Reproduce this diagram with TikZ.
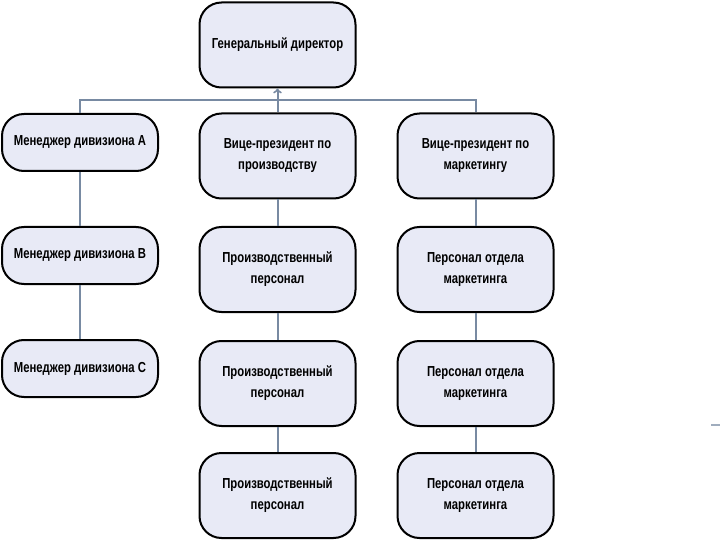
\documentclass[tikz,border=0pt]{standalone}
\usepackage{fontspec}
\newfontfamily\boxfont{Liberation Sans}[FakeStretch=0.78]
\usepackage{tikz}
\definecolor{boxfill}{RGB}{232,234,246}
\definecolor{linkcol}{RGB}{120,138,162}

\begin{document}
\begin{tikzpicture}[x=1pt,y=-1pt,
        every node/.style={rectangle,rounded corners=22pt,draw=black,line width=2pt,
            fill=boxfill,minimum width=156pt,align=center,inner sep=2pt,
            font=\boxfont\bfseries\fontsize{14.5}{21}\selectfont},
        tall/.style={minimum height=85pt},
        short/.style={minimum height=57pt},
        link/.style={draw=linkcol,line width=2pt},
        >=to
    ]
        \useasboundingbox (0,0) rectangle (720,540);

        \node[tall] (gd) at (277.5,45) {Генеральный директор};

        \node[short] (ma) at (80,142.5) {Менеджер дивизиона А};
        \node[short] (mb) at (80,255.5) {Менеджер дивизиона В};
        \node[short] (mc) at (80,368.5) {Менеджер дивизиона С};

        \node[tall] (vpp) at (277.5,156) {Вице-президент по\\производству};
        \node[tall] (pp1) at (277.5,269.5) {Производственный\\персонал};
        \node[tall] (pp2) at (277.5,383.5) {Производственный\\персонал};
        \node[tall] (pp3) at (277.5,495.5) {Производственный\\персонал};

        \node[tall] (vpm) at (475.5,156) {Вице-президент по\\маркетингу};
        \node[tall] (pm1) at (475.5,269.5) {Персонал отдела\\маркетинга};
        \node[tall] (pm2) at (475.5,383.5) {Персонал отдела\\маркетинга};
        \node[tall] (pm3) at (475.5,495.5) {Персонал отдела\\маркетинга};

        \coordinate (bus) at (277.5,100.5);

        \draw[link] (ma.north) |- (bus) -| (vpm.north);
        \draw[link] (vpp.north) -- (bus);
        \draw[link,->] (bus) -- (gd.south);

        \draw[link] (ma) -- (mb);
        \draw[link] (mb) -- (mc);
        \draw[link] (vpp) -- (pp1);
        \draw[link] (pp1) -- (pp2);
        \draw[link] (pp2) -- (pp3);
        \draw[link] (vpm) -- (pm1);
        \draw[link] (pm1) -- (pm2);
        \draw[link] (pm2) -- (pm3);

        \draw[draw=linkcol!70,line width=1.2pt] (711,425) -- (720,425);
    \end{tikzpicture}
\end{document}
